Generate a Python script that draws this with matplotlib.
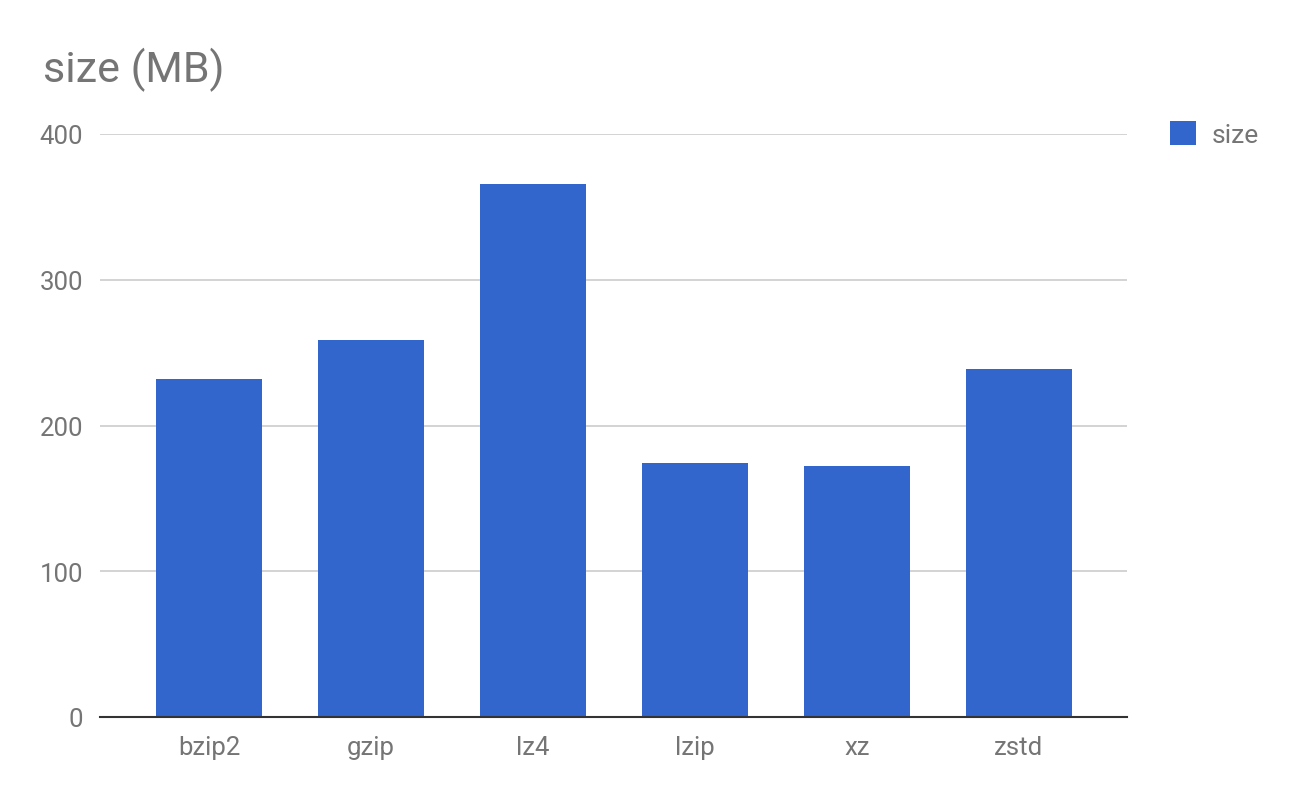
import matplotlib
matplotlib.use('Agg')
import matplotlib.pyplot as plt

categories = ['bzip2', 'gzip', 'lz4', 'lzip', 'xz', 'zstd']
sizes = [232, 259, 366, 174, 172, 239]
y_ticks = [0, 100, 200, 300, 400]

plt.rcParams['font.family'] = ['Roboto', 'DejaVu Sans']

fig = plt.figure(figsize=(13, 8.04), dpi=100)
ax = fig.add_axes([100 / 1300, 86 / 804, 1027 / 1300, 583 / 804])

x = range(len(categories))
bars = ax.bar(x, sizes, width=0.654, color='#3366cc', label='size', zorder=3)

ax.set_xlim(-0.673, 5.667)
ax.set_ylim(0, 400)
ax.set_yticks(y_ticks)
ax.set_xticks(list(x))
ax.set_xticklabels(categories)
ax.grid(axis='y', color='#cccccc', linewidth=1.2, zorder=0)
ax.tick_params(axis='both', length=0, labelsize=18.5, colors='#757575')
ax.tick_params(axis='x', pad=13)
ax.tick_params(axis='y', pad=12)
for s in ['top', 'right', 'left']:
    ax.spines[s].set_visible(False)
ax.spines['bottom'].set_color('#333333')
ax.spines['bottom'].set_linewidth(1.5)
ax.spines['bottom'].set_zorder(4)

# chart title, top left like the sheets export
fig.text(43 / 1300, 1 - 70 / 804, 'size (MB)', fontsize=31, color='#757575',
         va='center', ha='left')

leg = fig.legend(handles=[bars], labels=['size'], loc='center left',
                 bbox_to_anchor=(1170 / 1300, 1 - 135 / 804), frameon=False,
                 fontsize=19, handlelength=1.0, handleheight=1.0,
                 handletextpad=0.6, borderpad=0, borderaxespad=0,
                 labelcolor='#757575')

fig.savefig('out.png', dpi=100)
